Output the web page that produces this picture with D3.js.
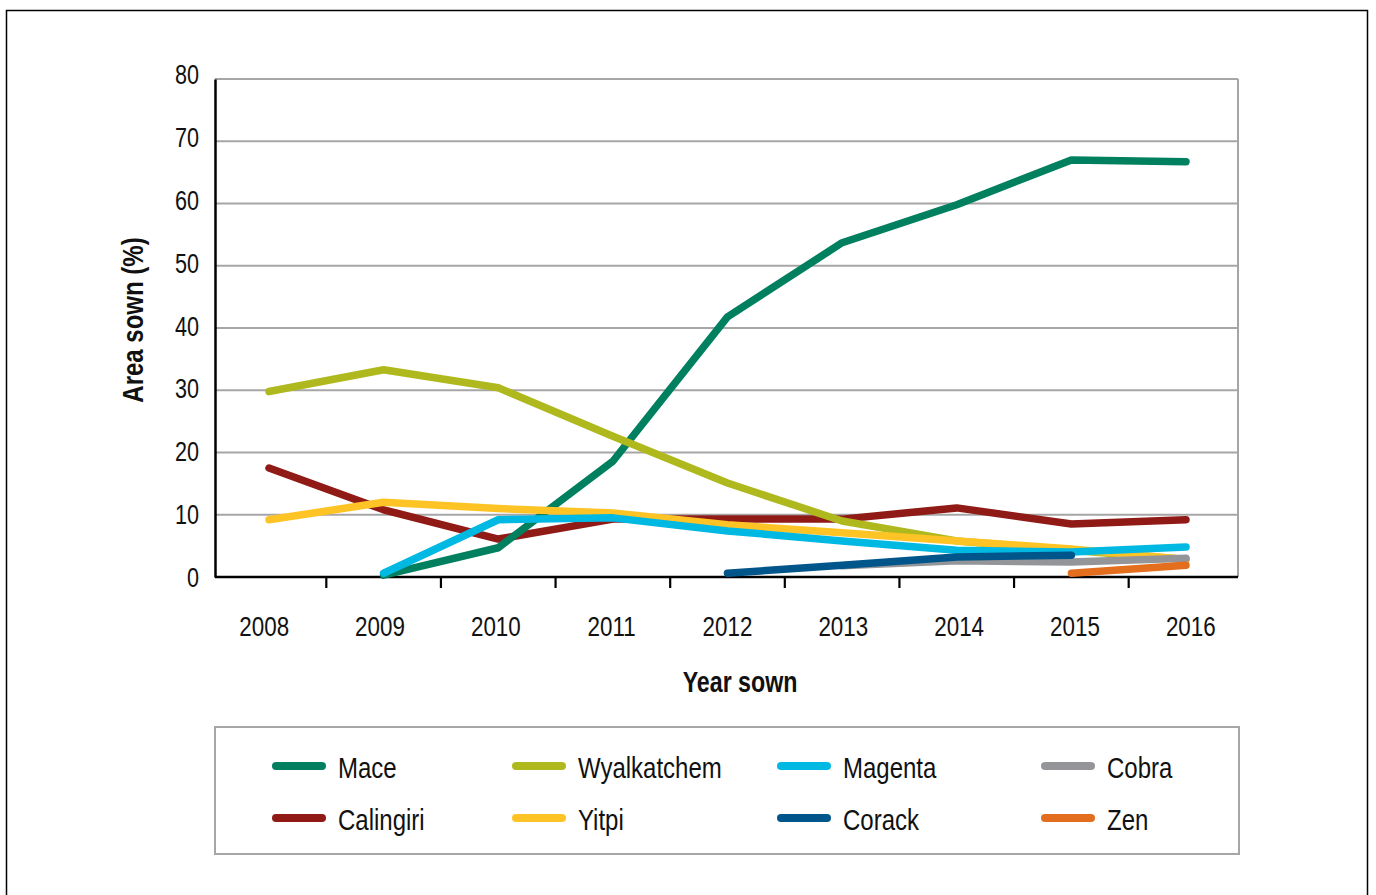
<!DOCTYPE html>
<html>
<head>
<meta charset="utf-8">
<script src="https://cdn.jsdelivr.net/npm/d3@7"></script>
<style>
  body { margin: 0; background: #fff; }
  text { font-family: "Liberation Sans", Arial, sans-serif; fill: #111; }
</style>
</head>
<body>
<script>
// years on the x axis
const years = [2008, 2009, 2010, 2011, 2012, 2013, 2014, 2015, 2016];
const yTicks = [0, 10, 20, 30, 40, 50, 60, 70, 80];

// area sown (%) per variety, null = not grown
const mace        = [null, 0.3, 4.7, 18.6, 41.8, 53.7, 59.8, 67.0, 66.7];
const wyalkatchem = [29.8, 33.3, 30.4, 22.6, 15.1, 9.0, 5.8, 4.3, 2.8];
const magenta     = [null, 0.6, 9.2, 9.5, 7.4, 5.8, 4.3, 4.0, 4.8];
const cobra       = [null, null, null, null, null, 1.8, 2.6, 2.4, 3.0];
const calingiri   = [17.5, 10.8, 6.1, 9.3, 9.3, 9.3, 11.1, 8.5, 9.2];
const yitpi       = [9.2, 12.0, 11.0, 10.3, 8.4, 7.1, 5.8, 4.5, 2.8];
const corack      = [null, null, null, null, 0.6, 1.9, 3.2, 3.5, null];
const zen         = [null, null, null, null, null, null, null, 0.6, 1.9];

const series = [
    {name: 'Calingiri', values: calingiri, color: '#8f1a16'},
    {name: 'Mace', values: mace, color: '#00805e'},
    {name: 'Wyalkatchem', values: wyalkatchem, color: '#afb91e'},
    {name: 'Yitpi', values: yitpi, color: '#fec325'},
    {name: 'Magenta', values: magenta, color: '#00b9e3'},
    {name: 'Cobra', values: cobra, color: '#939598'},
    {name: 'Corack', values: corack, color: '#00558b'},
    {name: 'Zen', values: zen, color: '#e36f1e'}
];

// legend layout order (row by row)
const legendOrder = ['Mace', 'Wyalkatchem', 'Magenta', 'Cobra', 'Calingiri', 'Yitpi', 'Corack', 'Zen'];

const width = 1376, height = 895;
const plotLeft = 215, plotRight = 1238, plotTop = 79, plotBottom = 577;
const narrow = 0.8; // squeeze text to look like a condensed face

const svg = d3.select('body')
    .append('svg')
    .attr('width', width)
    .attr('height', height);

// outer frame
svg.append('rect')
    .attr('x', 6.5).attr('y', 10.5)
    .attr('width', 1361).attr('height', 900)
    .attr('fill', 'none').attr('stroke', '#000').attr('stroke-width', 1.5);

const x = d3.scalePoint()
    .domain(years)
    .range([269, 1186]);
const step = x.step();

const y = d3.scaleLinear()
    .domain([0, 80])
    .range([plotBottom, plotTop]);

// gridlines
svg.append('g')
    .selectAll('line')
    .data(yTicks.filter(d => d > 0))
    .enter()
    .append('line')
    .attr('x1', plotLeft).attr('x2', plotRight)
    .attr('y1', d => y(d)).attr('y2', d => y(d))
    .attr('stroke', '#a6a6a6').attr('stroke-width', 2);

// right border of plot
svg.append('line')
    .attr('x1', plotRight).attr('x2', plotRight)
    .attr('y1', plotTop).attr('y2', plotBottom)
    .attr('stroke', '#a6a6a6').attr('stroke-width', 2);

// y axis
const yAxis = d3.axisLeft(y).tickValues(yTicks).tickSize(0).tickPadding(0);
const gy = svg.append('g')
    .attr('transform', 'translate(' + plotLeft + ',0)')
    .call(yAxis);
gy.select('.domain').attr('stroke', '#000').attr('stroke-width', 2.5);
gy.selectAll('text')
    .attr('x', null).attr('dy', null)
    .attr('transform', d => 'translate(-16,' + (7 - (d - 40) * 0.06) + ') scale(' + narrow + ',1)')
    .style('font-size', '27px').attr('fill', '#111')
    .style('font-family', '"Liberation Sans", Arial, sans-serif');

// x axis: ticks sit between the years
const gx = svg.append('g')
    .attr('transform', 'translate(0,' + plotBottom + ')');
gx.append('line')
    .attr('x1', plotLeft).attr('x2', plotRight)
    .attr('y1', 0).attr('y2', 0)
    .attr('stroke', '#000').attr('stroke-width', 2.5);
gx.selectAll('line.tick')
    .data(years.slice(1))
    .enter()
    .append('line')
    .attr('class', 'tick')
    .attr('x1', d => x(d) - step / 2).attr('x2', d => x(d) - step / 2)
    .attr('y1', 0).attr('y2', 11)
    .attr('stroke', '#000').attr('stroke-width', 2.2);
gx.selectAll('text')
    .data(years)
    .enter()
    .append('text')
    .attr('transform', d => 'translate(' + (x(d) + (d - 2012) * 1.2) + ',59) scale(' + narrow + ',1)')
    .attr('text-anchor', 'middle')
    .style('font-size', '28px')
    .text(d => d);

// axis titles
svg.append('text')
    .attr('transform', 'translate(143,320) rotate(-90) scale(' + narrow + ',1)')
    .attr('text-anchor', 'middle')
    .style('font-size', '30px')
    .style('font-weight', 'bold')
    .text('Area sown (%)');

svg.append('text')
    .attr('transform', 'translate(740,692) scale(' + narrow + ',1)')
    .attr('text-anchor', 'middle')
    .style('font-size', '29px')
    .style('font-weight', 'bold')
    .text('Year sown');

// lines
const line = d3.line()
    .defined(d => d.v !== null)
    .x(d => x(d.year))
    .y(d => y(d.v));

svg.append('g')
    .selectAll('path')
    .data(series)
    .enter()
    .append('path')
    .attr('d', s => line(years.map((yr, i) => ({year: yr, v: s.values[i]}))))
    .attr('fill', 'none')
    .attr('stroke', s => s.color)
    .attr('stroke-width', 7.5)
    .attr('stroke-linecap', 'round')
    .attr('stroke-linejoin', 'round');

// legend
svg.append('rect')
    .attr('x', 215).attr('y', 727)
    .attr('width', 1024).attr('height', 127)
    .attr('fill', 'none').attr('stroke', '#a6a6a6').attr('stroke-width', 2);

const colX = [276, 516, 781, 1045];
const rowY = [766, 818];
const legend = svg.append('g')
    .selectAll('g')
    .data(legendOrder.map(n => series.find(s => s.name === n)))
    .enter()
    .append('g')
    .attr('transform', (d, i) => 'translate(' + colX[i % 4] + ',' + rowY[Math.floor(i / 4)] + ')');

legend.append('line')
    .attr('x1', 0).attr('x2', 46)
    .attr('y1', 0).attr('y2', 0)
    .attr('stroke', d => d.color)
    .attr('stroke-width', 8)
    .attr('stroke-linecap', 'round');

legend.append('text')
    .attr('transform', 'translate(62,12) scale(' + narrow + ',1)')
    .style('font-size', '30px')
    .text(d => d.name);
</script>
</body>
</html>
